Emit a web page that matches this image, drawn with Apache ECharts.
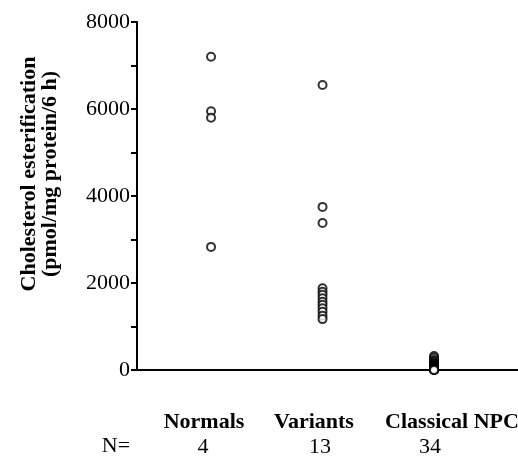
<!DOCTYPE html>
<html>
<head>
<meta charset="utf-8">
<script src="https://cdn.jsdelivr.net/npm/echarts@6/dist/echarts.min.js"></script>
<style>
  html, body { margin: 0; padding: 0; background: #fff; }
  #main { width: 518px; height: 457px; }
</style>
</head>
<body>
<div id="main"></div>
<script>
// groups and sample sizes
var categories = ['Normals', 'Variants', 'Classical NPC'];
var counts = [4, 13, 34];

// cholesterol esterification, pmol/mg protein/6 h
var normals = [7200, 5950, 5800, 2830];
var variants = [6550, 3750, 3380, 1880, 1800, 1730, 1650, 1570, 1500, 1420, 1340, 1250, 1170];
var classical = [320, 280, 230, 200, 170, 150, 130, 120, 110, 100, 90, 80, 70, 60, 55, 50, 45,
  40, 35, 30, 28, 25, 22, 20, 18, 15, 12, 10, 8, 6, 5, 3, 2, 0];

var yTicks = [0, 2000, 4000, 6000, 8000];

var groups = [normals, variants, classical];
var points = [];
groups.forEach(function (g, i) {
  g.forEach(function (v) { points.push([i + 1, v]); });
});

var font = 'Liberation Serif';
// label anchors sit a little off the point columns in the original
var nameAt = [0.937, 1.923, 3.161];

function nearest(v) {
  var best = 0;
  for (var i = 1; i < nameAt.length; i++) {
    if (Math.abs(nameAt[i] - v) < Math.abs(nameAt[best] - v)) best = i;
  }
  return best;
}

var chart = echarts.init(document.getElementById('main'));

var option = {
  animation: false,
  backgroundColor: '#fff',
  grid: { left: 137, right: 0, top: 22, bottom: 87, outerBoundsMode: 'none' },
  xAxis: {
    type: 'value',
    min: 0.336,
    max: 3.753,
    splitLine: { show: false },
    axisLine: { onZero: false, lineStyle: { color: '#000', width: 2 } },
    axisTick: { show: false },
    axisLabel: {
      customValues: nameAt,
      margin: 40,
      formatter: function (v) {
        var i = nearest(v);
        return '{n|' + categories[i] + '}\n{c' + i + '|' + counts[i] + '}';
      },
      rich: {
        n: { fontFamily: font, fontWeight: 'bold', fontSize: 22, color: '#000', lineHeight: 25 },
        c0: { fontFamily: font, fontSize: 22, color: '#000', lineHeight: 25, padding: [0, 2, 0, 0] },
        c1: { fontFamily: font, fontSize: 22, color: '#000', lineHeight: 25, padding: [0, 0, 0, 12] },
        c2: { fontFamily: font, fontSize: 22, color: '#000', lineHeight: 25, padding: [0, 44, 0, 0] }
      }
    }
  },
  yAxis: {
    type: 'value',
    min: 0,
    max: 8000,
    interval: 1000,
    splitLine: { show: false },
    axisLine: { lineStyle: { color: '#000', width: 2 } },
    axisTick: { length: 6, lineStyle: { color: '#000', width: 2 } },
    axisLabel: {
      fontFamily: font,
      fontSize: 22,
      color: '#000',
      margin: 7,
      formatter: function (v) { return yTicks.indexOf(v) >= 0 ? String(v) : ''; }
    }
  },
  graphic: [
    {
      type: 'text',
      x: 40, y: 174,
      rotation: Math.PI / 2,
      style: {
        text: 'Cholesterol esterification\n(pmol/mg protein/6 h)',
        font: 'bold 22px "Liberation Serif"',
        fill: '#000',
        align: 'center',
        verticalAlign: 'middle',
        lineHeight: 21
      }
    },
    {
      type: 'text',
      x: 116, y: 446,
      style: {
        text: 'N=',
        font: '22px "Liberation Serif"',
        fill: '#000',
        align: 'center',
        verticalAlign: 'middle'
      }
    }
  ],
  series: [
    {
      type: 'scatter',
      data: points,
      clip: false,
      symbol: 'emptyCircle',
      symbolSize: 8,
      itemStyle: { color: '#000', borderColor: '#000', borderWidth: 2.2 }
    }
  ]
};

chart.setOption(option);
</script>
</body>
</html>
